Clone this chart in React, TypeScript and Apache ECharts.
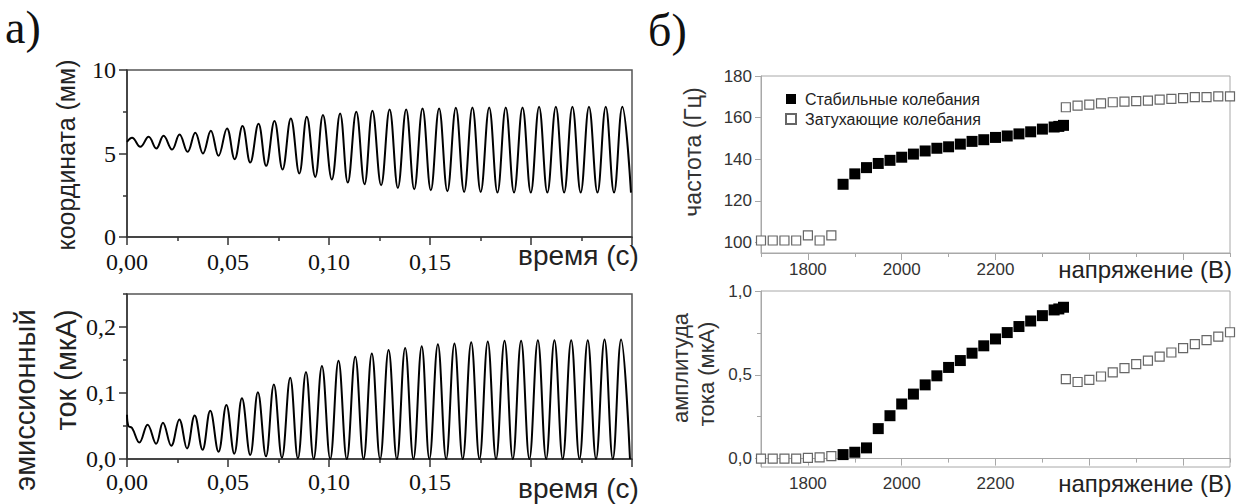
import React, { useEffect, useRef } from "react";
import * as echarts from "echarts";

// ---- a) time traces (extrema read from the picture) ----
const coordT = [0, 0.0025, 0.0066, 0.0107, 0.0145, 0.0181, 0.0223, 0.026, 0.03, 0.0338, 0.0376, 0.0415, 0.0453, 0.0495, 0.0533, 0.0572, 0.061, 0.0651, 0.0689, 0.073, 0.077, 0.0811, 0.0853, 0.089, 0.0932, 0.097, 0.1014, 0.1055, 0.1093, 0.1135, 0.1176, 0.1215, 0.1258, 0.13, 0.1341, 0.1382, 0.1422, 0.1463, 0.1504, 0.1545, 0.1586, 0.1628, 0.1669, 0.171, 0.1751, 0.1793, 0.1834, 0.1875, 0.1916, 0.1958, 0.1999, 0.204, 0.2081, 0.2123, 0.2164, 0.2205, 0.2246, 0.2287, 0.2329, 0.237, 0.2411, 0.2452, 0.2495];
const coordV = [5.7, 5.94, 5.4, 6.0, 5.3, 6.06, 5.24, 6.14, 5.1, 6.24, 5.0, 6.36, 4.86, 6.5, 4.66, 6.64, 4.46, 6.78, 4.26, 6.94, 4.04, 7.1, 3.8, 7.2, 3.6, 7.3, 3.44, 7.4, 3.26, 7.5, 3.16, 7.56, 3.1, 7.64, 2.94, 7.64, 2.86, 7.7, 2.8, 7.7, 2.74, 7.74, 2.7, 7.76, 2.7, 7.76, 2.66, 7.76, 2.66, 7.76, 2.66, 7.8, 2.66, 7.8, 2.66, 7.8, 2.66, 7.8, 2.66, 7.8, 2.66, 7.8, 2.66];

const curT = [0, 0.0007, 0.0025, 0.0061, 0.0102, 0.0144, 0.0178, 0.0219, 0.0259, 0.0297, 0.0335, 0.0374, 0.0412, 0.0453, 0.0492, 0.0531, 0.0569, 0.061, 0.0648, 0.0688, 0.0727, 0.0767, 0.0808, 0.0846, 0.0886, 0.0924, 0.0965, 0.1006, 0.1047, 0.1088, 0.113, 0.1171, 0.1212, 0.1253, 0.1295, 0.1336, 0.1377, 0.1418, 0.1459, 0.1497, 0.1539, 0.158, 0.1621, 0.1662, 0.1704, 0.1745, 0.1786, 0.1827, 0.1869, 0.191, 0.1951, 0.1992, 0.2034, 0.2075, 0.2116, 0.2157, 0.2199, 0.224, 0.2281, 0.2322, 0.2364, 0.2405, 0.2446, 0.249];
const curV = [0.067, 0.05, 0.047, 0.025, 0.052, 0.023, 0.055, 0.02, 0.06, 0.016, 0.066, 0.014, 0.073, 0.011, 0.082, 0.008, 0.092, 0.006, 0.101, 0.004, 0.113, 0.002, 0.123, 0.001, 0.132, 0, 0.141, 0, 0.149, 0, 0.155, 0, 0.16, 0, 0.165, 0, 0.168, 0, 0.171, 0, 0.174, 0, 0.175, 0, 0.177, 0, 0.178, 0, 0.179, 0, 0.179, 0, 0.18, 0, 0.18, 0, 0.18, 0, 0.18, 0, 0.181, 0, 0.181, 0];

const timeTicks = ["0,00", "0,05", "0,10", "0,15"];

// ---- б) voltage dependence ----
const voltLowOpen = [1700, 1725, 1750, 1775, 1800, 1825, 1850];
const freqLowOpen = [101, 101, 101, 101, 103.5, 101, 103.5];
const ampLowOpen = [0, 0, 0, 0, 0.005, 0.008, 0.015];

const voltStable = [1875, 1900, 1925, 1950, 1975, 2000, 2025, 2050, 2075, 2100, 2125, 2150, 2175, 2200, 2225, 2250, 2275, 2300, 2325, 2335, 2345];
const freqStable = [128, 133, 136, 138, 139.5, 141, 142.5, 144, 145.3, 146, 147.3, 148.6, 149.4, 150.5, 151.2, 152.2, 153.2, 154.5, 155.5, 155.8, 156.3];
const ampStable = [0.024, 0.038, 0.064, 0.179, 0.256, 0.326, 0.385, 0.44, 0.494, 0.544, 0.585, 0.629, 0.673, 0.714, 0.752, 0.788, 0.821, 0.853, 0.887, 0.893, 0.903];

const voltHighOpen = [2350, 2375, 2400, 2425, 2450, 2475, 2500, 2525, 2550, 2575, 2600, 2625, 2650, 2675, 2700];
const freqHighOpen = [165, 165.8, 166.3, 166.9, 167.4, 167.7, 167.9, 168.2, 168.7, 169, 169.4, 169.9, 169.9, 170.2, 170.2];
const ampHighOpen = [0.474, 0.457, 0.47, 0.49, 0.514, 0.54, 0.564, 0.585, 0.609, 0.633, 0.659, 0.683, 0.707, 0.728, 0.754];

const voltLabelTicks = [1800, 2000, 2200];
const voltMajorTicks = [1800, 2000, 2200, 2400, 2600];
const voltMinorTicks = [1700, 1900, 2100, 2300, 2500, 2700];
const freqTicks = [100, 120, 140, 160, 180];
const ampTicks = [0, 0.5, 1.0];
const ampMinorTicks = [0.25, 0.75];
const curTicks = [0, 0.1, 0.2];
const curMinorTicks = [0.05, 0.15, 0.25];

const SERIES_STABLE = "Стабильные колебания";
const SERIES_DAMPED = "Затухающие колебания";

const SERIF = '"Liberation Serif", "Times New Roman", serif';
const SANS = '"Liberation Sans", Arial, sans-serif';

const pairs = (xs: number[], ys: number[]) => xs.map((x, i) => [x, ys[i]]);
const comma = (v: number, d: number) => v.toFixed(d).replace(".", ",");

export default function App() {
  const ref = useRef<HTMLDivElement>(null);
  useEffect(() => {
    if (!ref.current) return;
    const chart = echarts.init(ref.current, undefined, { renderer: "svg" });

    const darkLine = { color: "#333", width: 1.5 };
    const grayLine = { color: "#a8a8a8", width: 1 };
    const filledStyle = { color: "#000", opacity: 1 };
    const openStyle = { color: "#fff", borderColor: "#666", borderWidth: 1.2, opacity: 1 };

    const leftX = (gridIndex: number, margin: number) => ({
      type: "value",
      gridIndex,
      position: "bottom",
      min: 0,
      max: 0.25,
      interval: 0.05,
      axisLine: { show: true, lineStyle: darkLine },
      axisTick: { show: true, length: 8, lineStyle: darkLine },
      minorTick: { show: true, splitNumber: 2, length: 4, lineStyle: darkLine },
      splitLine: { show: false },
      axisLabel: {
        fontFamily: SERIF,
        fontSize: 24,
        color: "#111",
        margin,
        formatter: (v: number) => {
          const s = comma(v, 2);
          return timeTicks.indexOf(s) >= 0 ? s : "";
        },
      },
    });

    const rightX = (gridIndex: number) => [
      {
        type: "value",
        gridIndex,
        position: "bottom",
        min: 1700,
        max: 2700,
        axisLine: { show: true, lineStyle: grayLine },
        axisTick: { show: true, length: 7, customValues: voltMajorTicks, lineStyle: grayLine },
        splitLine: { show: false },
        axisLabel: {
          customValues: voltLabelTicks,
          fontFamily: SANS,
          fontSize: 17,
          color: "#333",
          margin: 8,
          formatter: (v: number) => String(v),
        },
      },
      {
        type: "value",
        gridIndex,
        position: "bottom",
        min: 1700,
        max: 2700,
        axisLine: { show: false },
        axisTick: { show: true, length: 4, customValues: voltMinorTicks, lineStyle: grayLine },
        splitLine: { show: false },
        axisLabel: { show: false },
      },
    ];

    const option: any = {
      animation: false,
      grid: [
        { left: 127, top: 70, width: 505, height: 167, show: true, borderColor: "#555", borderWidth: 1.5 },
        { left: 127, top: 294, width: 505, height: 165, show: true, borderColor: "#555", borderWidth: 1.5 },
        { left: 761, top: 76, width: 469, height: 177, show: true, borderColor: "#a8a8a8", borderWidth: 1 },
        { left: 761, top: 291, width: 469, height: 176, show: true, borderColor: "#a8a8a8", borderWidth: 1 },
      ],
      xAxis: [leftX(0, 13), leftX(1, 11), ...rightX(2), ...rightX(3)],
      yAxis: [
        {
          type: "value",
          gridIndex: 0,
          position: "left",
          min: 0,
          max: 10,
          interval: 5,
          axisLine: { show: true, lineStyle: darkLine },
          axisTick: { show: true, length: 8, lineStyle: darkLine },
          minorTick: { show: true, splitNumber: 2, length: 4, lineStyle: darkLine },
          splitLine: { show: false },
          axisLabel: { fontFamily: SERIF, fontSize: 24, color: "#111", margin: 11 },
        },
        {
          type: "value",
          gridIndex: 1,
          position: "left",
          min: 0,
          max: 0.25,
          axisLine: { show: true, lineStyle: darkLine },
          axisTick: { show: true, length: 8, customValues: curTicks, lineStyle: darkLine },
          splitLine: { show: false },
          axisLabel: {
            customValues: curTicks,
            fontFamily: SERIF,
            fontSize: 24,
            color: "#111",
            margin: 11,
            formatter: (v: number) => comma(v, 1),
          },
        },
        {
          type: "value",
          gridIndex: 1,
          position: "left",
          min: 0,
          max: 0.25,
          axisLine: { show: false },
          axisTick: { show: true, length: 4, customValues: curMinorTicks, lineStyle: darkLine },
          splitLine: { show: false },
          axisLabel: { show: false },
        },
        {
          type: "value",
          gridIndex: 2,
          position: "left",
          min: 95,
          max: 180,
          axisLine: { show: true, lineStyle: grayLine },
          axisTick: { show: true, length: 6, customValues: freqTicks, lineStyle: grayLine },
          splitLine: { show: false },
          axisLabel: {
            customValues: freqTicks,
            fontFamily: SANS,
            fontSize: 17,
            color: "#333",
            margin: 9,
            formatter: (v: number) => String(v),
          },
        },
        {
          type: "value",
          gridIndex: 3,
          position: "left",
          min: -0.05,
          max: 1.0,
          axisLine: { show: true, lineStyle: grayLine },
          axisTick: { show: true, length: 6, customValues: ampTicks, lineStyle: grayLine },
          splitLine: { show: false },
          axisLabel: {
            customValues: ampTicks,
            fontFamily: SANS,
            fontSize: 17,
            color: "#333",
            margin: 9,
            formatter: (v: number) => comma(v, 1),
          },
        },
        {
          type: "value",
          gridIndex: 3,
          position: "left",
          min: -0.05,
          max: 1.0,
          axisLine: { show: false },
          axisTick: { show: true, length: 4, customValues: ampMinorTicks, lineStyle: grayLine },
          splitLine: { show: false },
          axisLabel: { show: false },
        },
      ],
      legend: {
        data: [SERIES_STABLE, SERIES_DAMPED],
        orient: "vertical",
        left: 780,
        top: 86,
        itemWidth: 10,
        itemHeight: 10,
        itemGap: 4,
        icon: "rect",
        selectedMode: false,
        textStyle: { fontFamily: SANS, fontSize: 16, color: "#222", padding: [0, 0, 0, 4] },
      },
      series: [
        {
          type: "line",
          xAxisIndex: 0,
          yAxisIndex: 0,
          data: pairs(coordT, coordV),
          smooth: 0.4,
          showSymbol: false,
          lineStyle: { color: "#000", width: 2 },
        },
        {
          type: "line",
          xAxisIndex: 1,
          yAxisIndex: 1,
          data: pairs(curT, curV),
          smooth: 0.4,
          showSymbol: false,
          lineStyle: { color: "#000", width: 2 },
        },
        {
          type: "scatter",
          name: SERIES_STABLE,
          xAxisIndex: 2,
          yAxisIndex: 3,
          symbol: "rect",
          symbolSize: 11,
          itemStyle: filledStyle,
          data: pairs(voltStable, freqStable),
        },
        {
          type: "scatter",
          name: SERIES_DAMPED,
          xAxisIndex: 2,
          yAxisIndex: 3,
          symbol: "rect",
          symbolSize: 9,
          itemStyle: openStyle,
          data: [...pairs(voltLowOpen, freqLowOpen), ...pairs(voltHighOpen, freqHighOpen)],
        },
        {
          type: "scatter",
          name: SERIES_STABLE,
          xAxisIndex: 4,
          yAxisIndex: 4,
          symbol: "rect",
          symbolSize: 11,
          itemStyle: filledStyle,
          data: pairs(voltStable, ampStable),
        },
        {
          type: "scatter",
          name: SERIES_DAMPED,
          xAxisIndex: 4,
          yAxisIndex: 4,
          symbol: "rect",
          symbolSize: 9,
          itemStyle: openStyle,
          data: [...pairs(voltLowOpen, ampLowOpen), ...pairs(voltHighOpen, ampHighOpen)],
        },
      ],
      graphic: [
        { type: "text", x: 5, y: 27, style: { text: "а)", font: `46px ${SERIF}`, fill: "#111", verticalAlign: "middle" } },
        { type: "text", x: 648, y: 30, style: { text: "б)", font: `46px ${SERIF}`, fill: "#111", verticalAlign: "middle" } },
        { type: "text", x: 66, y: 155, rotation: Math.PI / 2, style: { text: "координата (мм)", font: `25px ${SANS}`, fill: "#222", align: "center", verticalAlign: "middle" } },
        { type: "text", x: 25, y: 400, rotation: Math.PI / 2, style: { text: "эмиссионный", font: `29px ${SANS}`, fill: "#222", align: "center", verticalAlign: "middle" } },
        { type: "text", x: 66, y: 370, rotation: Math.PI / 2, style: { text: "ток (мкА)", font: `29px ${SANS}`, fill: "#222", align: "center", verticalAlign: "middle" } },
        { type: "text", x: 518, y: 255, style: { text: "время (с)", font: `28px ${SANS}`, fill: "#222", verticalAlign: "middle" } },
        { type: "text", x: 518, y: 488, style: { text: "время (с)", font: `28px ${SANS}`, fill: "#222", verticalAlign: "middle" } },
        { type: "text", x: 693, y: 152, rotation: Math.PI / 2, style: { text: "частота (Гц)", font: `23px ${SANS}`, fill: "#333", align: "center", verticalAlign: "middle" } },
        { type: "text", x: 680, y: 368, rotation: Math.PI / 2, style: { text: "амплитуда", font: `22px ${SANS}`, fill: "#333", align: "center", verticalAlign: "middle" } },
        { type: "text", x: 706, y: 374, rotation: Math.PI / 2, style: { text: "тока (мкА)", font: `22px ${SANS}`, fill: "#333", align: "center", verticalAlign: "middle" } },
        { type: "text", x: 1232, y: 269, style: { text: "напряжение (В)", font: `24px ${SANS}`, fill: "#222", align: "right", verticalAlign: "middle" } },
        { type: "text", x: 1232, y: 483, style: { text: "напряжение (В)", font: `24px ${SANS}`, fill: "#222", align: "right", verticalAlign: "middle" } },
      ],
    };

    chart.setOption(option);
    return () => chart.dispose();
  }, []);

  return (
    <div
      ref={ref}
      style={{ position: "absolute", left: 0, top: 0, width: 1240, height: 504, background: "#fff" }}
    />
  );
}
